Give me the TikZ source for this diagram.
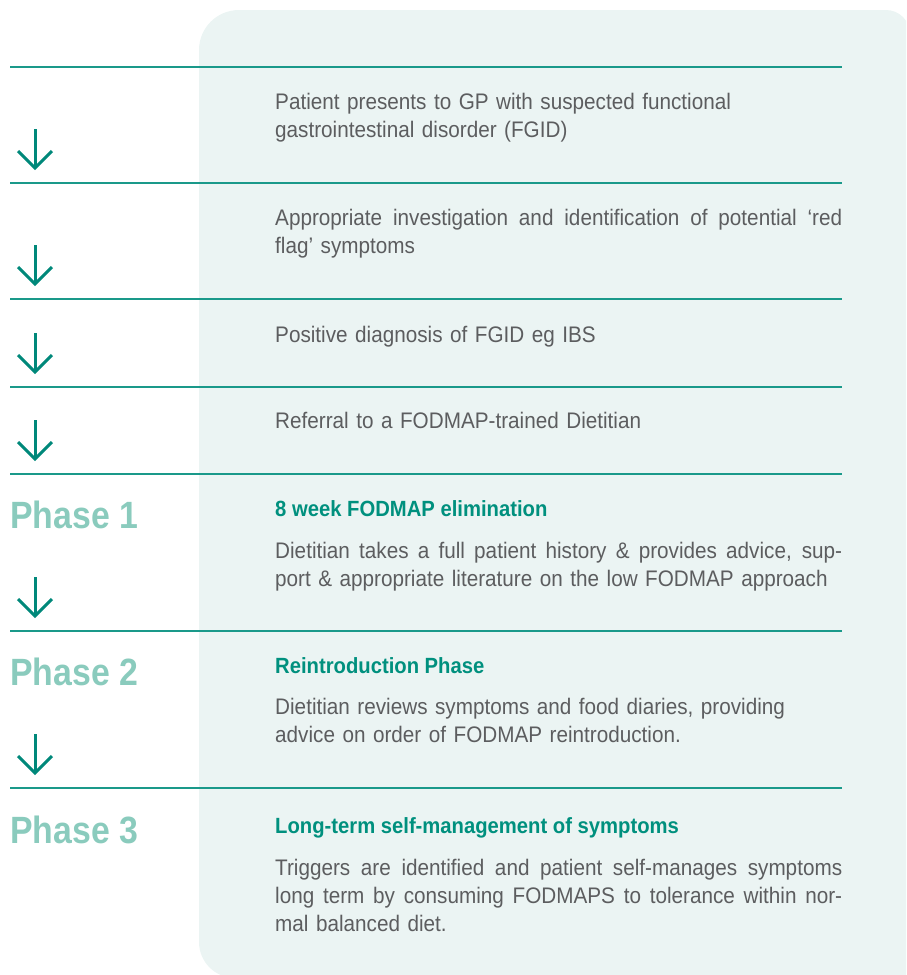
\documentclass[tikz,border=0pt]{standalone}
\usepackage{fontspec}
\setmainfont{Liberation Sans}
\newfontfamily\condfont[FakeStretch=0.92]{Liberation Sans}
\newfontfamily\phasefont[FakeStretch=0.89]{Liberation Sans}
\begin{document}
\definecolor{panelbg}{HTML}{EBF4F3}
\definecolor{rulecol}{HTML}{1A998A}
\definecolor{arrowcol}{HTML}{00887A}
\definecolor{headcol}{HTML}{00907E}
\definecolor{phasecol}{HTML}{8ACBBD}
\definecolor{bodycol}{HTML}{5C5D5F}
% a line set to the full column width, its spaces stretched evenly
\newcommand\fullline[1]{\leavevmode\hbox to 567pt{\spaceskip=\fontdimen2\font plus 1fill\relax #1}}
\begin{tikzpicture}[x=1pt,y=-1pt,
  rowrule/.style={draw=rulecol,line width=1.5pt},
  arrowline/.style={draw=arrowcol,line width=3pt,line cap=butt,line join=miter},
  downarrow/.pic={\draw[arrowline] (0,-39)--(0,0); \draw[arrowline] (-17,-17)--(0,0)--(17,-17);},
  bodytext/.style={anchor=base west,inner sep=0pt,text width=567pt,align=left,
    text=bodycol,font=\condfont\fontsize{22.5}{28.3}\selectfont},
  headtext/.style={anchor=base west,inner sep=0pt,text=headcol,
    font=\condfont\fontsize{22}{26}\selectfont\bfseries},
  phasetext/.style={anchor=base west,inner sep=0pt,text=phasecol,
    font=\phasefont\fontsize{38}{44}\selectfont\bfseries}]
\useasboundingbox (0,0) rectangle (906,975);
% tinted panel behind the text column
\begin{scope}
\clip (0,0) rectangle (906,975);
\fill[panelbg] (560,978) [rounded corners=36pt] -- (199,978)
  [rounded corners=40pt] -- (199,10) [rounded corners=24pt] -- (910,10)
  [sharp corners] -- (910,990) -- cycle;
\end{scope}
% horizontal rules between the steps
\foreach \y in {67,183,299,387,474,631,788}
  \draw[rowrule] (10,\y) -- (842,\y);
% down arrows
\foreach \y in {168,284,372,459,616,773}
  \pic at (35,\y) {downarrow};
% phase labels
\node[phasetext] (ph1) at (10,528) {Phase 1};
\node[phasetext] (ph2) at (10,685) {Phase 2};
\node[phasetext] (ph3) at (10,843) {Phase 3};
% step texts
\node[bodytext] (s1) at (275,109.5) {Patient presents to GP with suspected functional\\gastrointestinal disorder (FGID)};
\node[bodytext] (s2) at (275,225) {\fullline{Appropriate investigation and identification of potential ‘red}\\flag’ symptoms};
\node[bodytext] (s3) at (275,342) {Positive diagnosis of FGID eg IBS};
\node[bodytext] (s4) at (275,428) {Referral to a FODMAP-trained Dietitian};
\node[headtext] (h1) at (275,516) {8 week FODMAP elimination};
\node[bodytext] (b1) at (275,558) {\fullline{Dietitian takes a full patient history \& provides advice, sup-}\\port \& appropriate literature on the low FODMAP approach};
\node[headtext] (h2) at (275,673) {Reintroduction Phase};
\node[bodytext] (b2) at (275,714) {Dietitian reviews symptoms and food diaries, providing\\advice on order of FODMAP reintroduction.};
\node[headtext] (h3) at (275,833) {Long-term self-management of symptoms};
\node[bodytext] (b3) at (275,875) {\fullline{Triggers are identified and patient self-manages symptoms}\\\fullline{long term by consuming FODMAPS to tolerance within nor-}\\mal balanced diet.};
\end{tikzpicture}
\end{document}
